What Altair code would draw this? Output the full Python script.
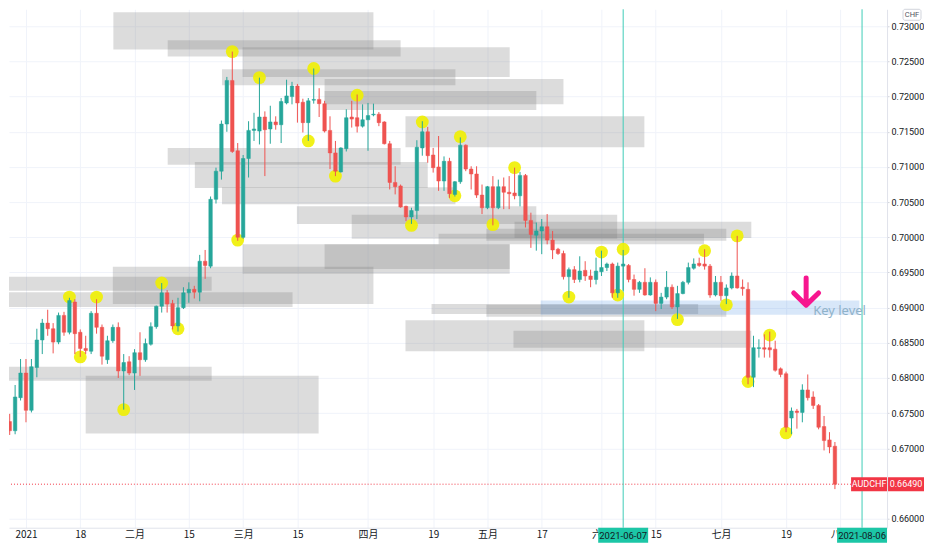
import altair as alt
import pandas as pd

# ---------------- candle data (daily, trading-day index k; k=0 is 2021-01-04) ----------------
first_k = -4
opens = [0.6766,0.6738,0.6725,0.6772,0.6807,0.6754,0.6815,0.6854,0.6878,0.6870,
         0.6851,0.6889,0.6865,0.6908,0.6865,0.6842,0.6838,0.6892,0.6872,0.6826,
         0.6853,0.6872,0.6810,0.6823,0.6807,0.6836,0.6826,0.6848,0.6873,0.6902,
         0.6921,0.6906,0.6874,0.6900,0.6921,0.6926,0.6922,0.6966,0.6959,0.7054,
         0.7094,0.7161,0.7223,0.7123,0.7000,0.7112,0.7152,0.7151,0.7171,0.7154,
         0.7164,0.7160,0.7191,0.7200,0.7215,0.7192,0.7163,0.7195,0.7196,0.7190,
         0.7152,0.7120,0.7093,0.7126,0.7171,0.7170,0.7158,0.7167,0.7174,0.7175,
         0.7164,0.7133,0.7078,0.7073,0.7044,0.7029,0.7038,0.7127,0.7150,0.7117,
         0.7100,0.7080,0.7108,0.7061,0.7079,0.7131,0.7097,0.7090,0.7060,0.7042,
         0.7072,0.7042,0.7072,0.7064,0.7063,0.7059,0.7088,0.7024,0.7003,0.7009,
         0.7015,0.6996,0.6983,0.6977,0.6944,0.6954,0.6940,0.6953,0.6945,0.6940,
         0.6951,0.6957,0.6962,0.6921,0.6959,0.6960,0.6940,0.6926,0.6936,0.6918,
         0.6936,0.6906,0.6915,0.6929,0.6901,0.6920,0.6936,0.6956,0.6963,0.6962,
         0.6959,0.6918,0.6936,0.6917,0.6928,0.6945,0.6929,0.6926,0.6801,0.6842,
         0.6843,0.6843,0.6841,0.6813,0.6806,0.6743,0.6753,0.6751,0.6783,0.6773,
         0.6761,0.6731,0.6712,0.6703]
highs = [0.6782,0.6749,0.6790,0.6827,0.6827,0.6827,0.6870,0.6884,0.6897,0.6878,
         0.6893,0.6894,0.6914,0.6912,0.6869,0.6860,0.6895,0.6912,0.6876,0.6860,
         0.6876,0.6879,0.6834,0.6831,0.6841,0.6865,0.6856,0.6879,0.6903,0.6935,
         0.6925,0.6911,0.6914,0.6929,0.6936,0.6931,0.6975,0.6982,0.7058,0.7099,
         0.7166,0.7228,0.7264,0.7134,0.7117,0.7165,0.7177,0.7227,0.7179,0.7187,
         0.7172,0.7198,0.7224,0.7221,0.7218,0.7197,0.7198,0.7240,0.7212,0.7194,
         0.7172,0.7137,0.7128,0.7182,0.7194,0.7203,0.7189,0.7191,0.7190,0.7178,
         0.7165,0.7137,0.7101,0.7075,0.7045,0.7042,0.7138,0.7165,0.7157,0.7127,
         0.7144,0.7115,0.7113,0.7080,0.7142,0.7132,0.7101,0.7101,0.7075,0.7073,
         0.7087,0.7082,0.7085,0.7087,0.7099,0.7093,0.7090,0.7035,0.7021,0.7026,
         0.7033,0.7009,0.6985,0.6981,0.6957,0.6959,0.6973,0.6966,0.6954,0.6971,
         0.6981,0.6964,0.6964,0.6964,0.6982,0.6962,0.6947,0.6938,0.6956,0.6943,
         0.6940,0.6921,0.6952,0.6933,0.6931,0.6938,0.6964,0.6970,0.6971,0.6983,
         0.6962,0.6945,0.6945,0.6933,0.6950,0.7002,0.6940,0.6936,0.6860,0.6855,
         0.6862,0.6866,0.6853,0.6815,0.6809,0.6758,0.6756,0.6791,0.6805,0.6781,
         0.6763,0.6746,0.6723,0.6709]
lows = [0.6730,0.6719,0.6720,0.6768,0.6737,0.6751,0.6801,0.6834,0.6860,0.6835,
        0.6848,0.6860,0.6862,0.6834,0.6830,0.6834,0.6834,0.6863,0.6819,0.6820,
        0.6850,0.6800,0.6755,0.6804,0.6783,0.6803,0.6823,0.6846,0.6870,0.6893,
        0.6893,0.6869,0.6866,0.6898,0.6907,0.6913,0.6909,0.6941,0.6956,0.7048,
        0.7082,0.7150,0.7120,0.6995,0.6998,0.7085,0.7137,0.7132,0.7087,0.7133,
        0.7153,0.7134,0.7189,0.7189,0.7163,0.7149,0.7137,0.7190,0.7171,0.7149,
        0.7097,0.7087,0.7092,0.7122,0.7156,0.7149,0.7156,0.7123,0.7172,0.7158,
        0.7132,0.7068,0.7061,0.7042,0.7023,0.7019,0.7026,0.7116,0.7106,0.7092,
        0.7066,0.7066,0.7056,0.7058,0.7076,0.7094,0.7068,0.7056,0.7033,0.7040,
        0.7017,0.7040,0.7040,0.7040,0.7054,0.7044,0.7014,0.6985,0.6981,0.6976,
        0.6990,0.6969,0.6975,0.6940,0.6914,0.6935,0.6936,0.6938,0.6929,0.6933,
        0.6945,0.6952,0.6914,0.6914,0.6924,0.6936,0.6917,0.6921,0.6917,0.6917,
        0.6895,0.6898,0.6912,0.6898,0.6884,0.6919,0.6933,0.6954,0.6958,0.6954,
        0.6914,0.6916,0.6910,0.6905,0.6926,0.6927,0.6917,0.6791,0.6787,0.6829,
        0.6829,0.6829,0.6809,0.6801,0.6723,0.6720,0.6728,0.6737,0.6768,0.6756,
        0.6727,0.6697,0.6693,0.6642]
closes = [0.6738,0.6725,0.6773,0.6807,0.6754,0.6816,0.6854,0.6878,0.6870,0.6851,
          0.6889,0.6865,0.6910,0.6863,0.6842,0.6839,0.6892,0.6872,0.6831,0.6853,
          0.6872,0.6810,0.6822,0.6807,0.6836,0.6826,0.6849,0.6873,0.6902,0.6921,
          0.6905,0.6874,0.6900,0.6921,0.6926,0.6922,0.6966,0.6960,0.7054,0.7094,
          0.7161,0.7223,0.7122,0.7000,0.7112,0.7152,0.7154,0.7171,0.7153,0.7164,
          0.7160,0.7193,0.7201,0.7215,0.7191,0.7163,0.7194,0.7196,0.7190,0.7151,
          0.7120,0.7094,0.7127,0.7170,0.7168,0.7158,0.7167,0.7173,0.7175,0.7163,
          0.7133,0.7078,0.7072,0.7043,0.7029,0.7038,0.7128,0.7150,0.7116,0.7099,
          0.7080,0.7108,0.7062,0.7079,0.7131,0.7097,0.7090,0.7060,0.7042,0.7072,
          0.7042,0.7072,0.7064,0.7062,0.7059,0.7088,0.7024,0.7004,0.7009,0.7015,
          0.6996,0.6982,0.6977,0.6944,0.6954,0.6940,0.6952,0.6945,0.6940,0.6952,
          0.6957,0.6962,0.6921,0.6959,0.6962,0.6940,0.6926,0.6936,0.6918,0.6936,
          0.6906,0.6915,0.6929,0.6901,0.6920,0.6936,0.6957,0.6962,0.6960,0.6959,
          0.6918,0.6936,0.6917,0.6928,0.6945,0.6928,0.6927,0.6801,0.6843,0.6843,
          0.6841,0.6840,0.6811,0.6805,0.6730,0.6753,0.6751,0.6783,0.6772,0.6761,
          0.6730,0.6711,0.6702,0.6649]

# ---------------- axis labels ----------------
tick_k = [0, 10, 20, 30, 40, 50, 63, 75, 85, 95, 106, 116, 128, 140, 150]
tick_labels = ["2021", "18", "二月", "15", "三月", "15", "四月", "19", "五月", "17",
               "六月", "15", "七月", "19", "八月"]
price_ticks = [0.66, 0.67, 0.675, 0.68, 0.685, 0.69, 0.695, 0.70, 0.705,
               0.71, 0.715, 0.72, 0.725, 0.73]

# ---------------- annotations ----------------
circle_k = [8, 13, 10, 18, 25, 28, 38, 39, 43, 52, 53, 57, 61, 71, 73, 79, 80, 86, 90,
            100, 106, 109, 110, 120, 125, 129, 131, 133, 137, 140]
circle_price = [0.6915, 0.6915, 0.6830, 0.6755, 0.6935, 0.6870, 0.7264, 0.6996, 0.7227,
                0.7137, 0.7240, 0.7087, 0.7202, 0.7017, 0.7164, 0.7059, 0.7143, 0.7018,
                0.7099, 0.6915, 0.6979, 0.6918, 0.6983, 0.6883, 0.6981, 0.6904, 0.7002,
                0.6795, 0.6861, 0.6722]

zone_k1 = [11.1, 16.1, 26.1, 39.9, 36.1, 55.0, 55.0, 69.9, 26.1, 31.1, 36.1, 49.9, 60.0,
           76.0, 84.8, 90.0, 39.9, 55.0, 16.0, -6.0, -3.9, 74.7, 84.8, 69.9, 89.8, -6.0, 11.0]
zone_k2 = [54.0, 64.0, 69.0, 89.1, 79.1, 99.0, 94.0, 113.9, 69.0, 74.0, 79.1, 94.0, 108.9,
           124.9, 129.0, 133.6, 89.1, 89.1, 64.0, 34.2, 49.1, 123.8, 129.0, 113.9, 133.6, 34.2, 53.9]
zone_top = [0.7345, 0.7320, 0.7280, 0.7270, 0.7239, 0.7225, 0.7208, 0.7172, 0.7127, 0.7107,
            0.7071, 0.7044, 0.7032, 0.7005, 0.7012, 0.7022, 0.6990, 0.6990, 0.6958, 0.6944,
            0.6922, 0.6905, 0.6904, 0.6882, 0.6867, 0.6816, 0.6803]
zone_bot = [0.7326, 0.7267, 0.7257, 0.7228, 0.7216, 0.7189, 0.7181, 0.7128, 0.7103, 0.7070,
            0.7047, 0.7019, 0.6998, 0.6990, 0.6995, 0.6999, 0.6948, 0.6955, 0.6905, 0.6924,
            0.6901, 0.6891, 0.6887, 0.6838, 0.6843, 0.6796, 0.6721]

key_k = [94.8, 153.5]
key_price = [0.6910, 0.6890]
key_text = "Key level"
key_text_k = 145.0
key_text_price = 0.6895
arrow_k = 143.7
arrow_price = 0.6922

vline_k = [110, 154]
vline_labels = ["2021-06-07", "2021-08-06"]
last_price = 0.6649
symbol = "AUDCHF"
currency = "CHF"

# ---------------- frames ----------------
n = len(opens)
candles = pd.DataFrame({
    "k": list(range(first_k, first_k + n)),
    "open": opens, "high": highs, "low": lows, "close": closes,
})
candles["dir"] = ["up" if c >= o else "down" for o, c in zip(opens, closes)]

zones = pd.DataFrame({"k1": zone_k1, "k2": zone_k2, "top": zone_top, "bot": zone_bot})
circles = pd.DataFrame({"k": circle_k, "p": circle_price})
key_df = pd.DataFrame({"k1": [key_k[0]], "k2": [key_k[1]], "top": [key_price[0]], "bot": [key_price[1]]})
key_txt_df = pd.DataFrame({"k": [key_text_k], "p": [key_text_price], "t": [key_text]})
arrow_df = pd.DataFrame({"k": [arrow_k], "p": [arrow_price]})
vlines = pd.DataFrame({"k": vline_k, "label": vline_labels})
last_df = pd.DataFrame({"p": [last_price], "sym": [symbol], "lbl": [f"{last_price:.5f}"]})
cur_df = pd.DataFrame({"t": [currency]})

# ---------------- scales / axes ----------------
W, H = 879, 519
xs = alt.Scale(domain=[-3.128, 158.602], nice=False, zero=False, padding=0)
ys = alt.Scale(domain=[0.658712, 0.732414], nice=False, zero=False, padding=0)

expr = ""
for kk, lab in zip(tick_k, tick_labels):
    expr += f"datum.value == {kk} ? '{lab}' : "
expr += "''"

xax = alt.Axis(values=tick_k, labelExpr=expr, grid=True, gridColor="#f0f3fa", ticks=False,
               domainColor="#e0e3eb", labelFont="Noto Sans CJK SC", labelFontSize=10,
               labelColor="#131722", labelPadding=2, title=None, labelOverlap=False,
               labelFlush=False)
yax = alt.Axis(orient="right", values=price_ticks, format=".5f", grid=True, gridColor="#f0f3fa",
               tickColor="#d1d4dc", tickSize=2, domainColor="#e0e3eb", labelFont="Roboto",
               labelFontSize=9, labelColor="#131722", labelPadding=2, title=None,
               labelOverlap=False, labelFlush=False)


def X(f):
    return alt.X(f"{f}:Q", scale=xs, axis=xax)


def Y(f):
    return alt.Y(f"{f}:Q", scale=ys, axis=yax)


col_scale = alt.Scale(domain=["up", "down"], range=["#26a69a", "#ef5350"])

zone_layer = alt.Chart(zones).mark_rect(clip=True, color="#7f7f7f", opacity=0.27).encode(
    x=X("k1"), x2="k2", y=Y("top"), y2="bot")

key_layer = alt.Chart(key_df).mark_rect(clip=True, color="#3d85e0", opacity=0.2).encode(
    x=X("k1"), x2="k2", y=Y("top"), y2="bot")

vline_layer = alt.Chart(vlines).mark_rule(color="#3fcdb8", strokeWidth=1).encode(x=X("k"))

price_line = alt.Chart(last_df).mark_rule(color="#f23645", strokeDash=[1, 2], strokeWidth=1).encode(
    y=Y("p"))

circle_layer = alt.Chart(circles).mark_circle(size=165, color="#f0f000", opacity=0.9).encode(
    x=X("k"), y=Y("p"))

wick_layer = alt.Chart(candles).mark_rule(clip=True, strokeWidth=1).encode(
    x=X("k"), y=Y("low"), y2="high",
    color=alt.Color("dir:N", scale=col_scale, legend=None))

body_layer = alt.Chart(candles).mark_bar(clip=True, width=3.5, strokeWidth=0.5).encode(
    x=X("k"), y=Y("open"), y2="close",
    color=alt.Color("dir:N", scale=col_scale, legend=None),
    stroke=alt.Stroke("dir:N", scale=col_scale, legend=None))

arrow_layer = alt.Chart(arrow_df).mark_point(
    shape="M0,-1L0,0.92M-0.88,0.06L0,0.92L0.88,0.06", filled=False, size=800,
    strokeWidth=5, strokeCap="round", strokeJoin="round", color="#f7168f", opacity=1).encode(
    x=X("k"), y=Y("p"))

key_text_layer = alt.Chart(key_txt_df).mark_text(
    align="left", baseline="middle", fontSize=13, font="Noto Sans", color="#8fb2c9").encode(
    x=X("k"), y=Y("p"), text="t:N")

sym_box = alt.Chart(last_df).mark_rect(color="#f23645", yOffset=-7, y2Offset=7).encode(
    x=alt.value(W - 36), x2=alt.value(W), y=Y("p"), y2="p")
sym_text = alt.Chart(last_df).mark_text(color="white", fontSize=9, font="Roboto",
                                        align="center", baseline="middle").encode(
    x=alt.value(W - 18), y=Y("p"), text="sym:N")
price_box = alt.Chart(last_df).mark_rect(color="#f23645", yOffset=-7, y2Offset=7).encode(
    x=alt.value(W + 1), x2=alt.value(W + 37), y=Y("p"), y2="p")
price_text = alt.Chart(last_df).mark_text(color="white", fontSize=9, font="Roboto",
                                          align="center", baseline="middle").encode(
    x=alt.value(W + 19), y=Y("p"), text="lbl:N")

tag_box = alt.Chart(vlines).mark_rect(color="#1cc6a6", xOffset=-25, x2Offset=25).encode(
    x=X("k"), x2="k", y=alt.value(H), y2=alt.value(H + 15))
tag_text = alt.Chart(vlines).mark_text(color="#131722", fontSize=9.5, font="Roboto",
                                       align="center", baseline="middle").encode(
    x=X("k"), y=alt.value(H + 8), text="label:N")

cur_box = alt.Chart(cur_df).mark_rect(fill="white", stroke="#d1d4dc", strokeWidth=1,
                                      cornerRadius=2).encode(
    x=alt.value(W + 16), x2=alt.value(W + 34), y=alt.value(0), y2=alt.value(11))
cur_text = alt.Chart(cur_df).mark_text(color="#50535e", fontSize=7.5, font="Roboto",
                                       align="center", baseline="middle").encode(
    x=alt.value(W + 25), y=alt.value(6), text="t:N")

chart = alt.layer(
    zone_layer, key_layer, price_line, vline_layer, circle_layer, wick_layer, body_layer,
    arrow_layer, key_text_layer, sym_box, sym_text, price_box, price_text,
    tag_box, tag_text, cur_box, cur_text
).properties(width=W, height=H, padding=0, background="white").configure_view(strokeWidth=0)

chart.save("out.html", embed_options={"renderer": "svg", "actions": False})
